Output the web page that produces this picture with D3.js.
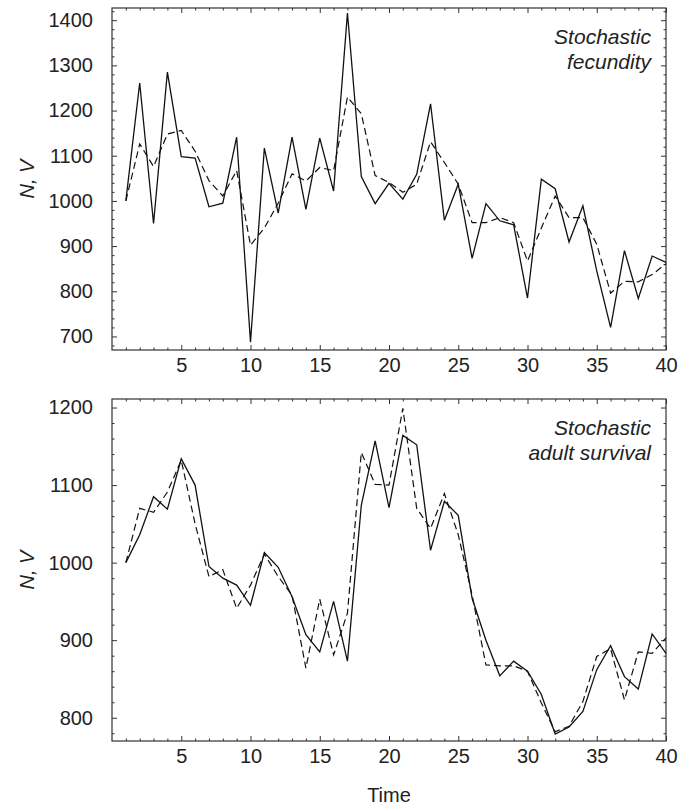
<!DOCTYPE html>
<html>
<head>
<meta charset="utf-8">
<script src="https://cdn.jsdelivr.net/npm/d3@7"></script>
<style>
  body { margin: 0; background: #fff; }
  svg { display: block; font-family: "Liberation Sans", Arial, sans-serif; }
  .tick text { font-size: 20px; fill: #222; }
</style>
</head>
<body>
<div id="chart"></div>
<script>
// time steps
const time = [1,2,3,4,5,6,7,8,9,10,11,12,13,14,15,16,17,18,19,20,
              21,22,23,24,25,26,27,28,29,30,31,32,33,34,35,36,37,38,39,40];

// panel 1: stochastic fecundity (N solid, V dashed)
const fecundityN = [1000,1261,950,1285,1098,1095,987,995,1141,687,1117,973,1141,981,1139,1022,1416,1054,994,1039,
                    1004,1059,1215,957,1037,873,994,956,947,785,1048,1027,909,989,845,720,890,784,878,864];
const fecundityV = [1000,1126,1076,1148,1156,1110,1045,1011,1067,902,940,995,1060,1044,1074,1067,1230,1193,1056,1041,
                    1019,1037,1131,1085,1037,952,952,963,952,867,940,1011,963,963,904,796,822,821,837,861];

// panel 2: stochastic adult survival
const survivalN = [1000,1036,1085,1069,1134,1100,995,980,971,945,1013,994,956,907,885,950,873,1074,1157,1071,
                   1164,1152,1016,1079,1061,954,900,854,873,860,830,779,788,808,862,893,853,837,908,883];
const survivalV = [1000,1070,1065,1091,1132,1050,982,991,941,971,1011,982,958,864,953,881,935,1142,1101,1100,
                   1199,1070,1044,1089,1036,958,868,867,867,860,819,782,789,821,879,889,823,885,883,903];

const xTicks = [5,10,15,20,25,30,35,40];
const fecundityTicks = [700,800,900,1000,1100,1200,1300,1400];
const survivalTicks = [800,900,1000,1100,1200];

const W = 688, H = 807;
const left = 112, right = 666;

const svg = d3.select('#chart').append('svg')
  .attr('width', W)
  .attr('height', H);

const xScale = d3.scaleLinear().domain([0, 40]).range([left, right]);

function drawPanel(opts) {
  const yScale = d3.scaleLinear().domain(opts.yDomain).range([opts.bottom, opts.top]);
  const g = svg.append('g');

  const minorY = d3.range(Math.ceil(opts.yDomain[0] / 20) * 20, opts.yDomain[1], 20)
    .filter(v => v % 100 != 0);
  const minorX = d3.range(1, 40).filter(v => v % 5 != 0);

  // left axis with labels, ticks pointing inward
  g.append('g')
    .attr('transform', `translate(${left},0)`)
    .call(d3.axisLeft(yScale).tickValues(opts.yTicks).tickSize(-5).tickPadding(19).tickFormat(d3.format('d')));
  g.append('g')
    .attr('transform', `translate(${left},0)`)
    .call(d3.axisLeft(yScale).tickValues(minorY).tickSize(-2.5).tickFormat(''));
  // right axis, ticks only
  g.append('g')
    .attr('transform', `translate(${right},0)`)
    .call(d3.axisRight(yScale).tickValues(opts.yTicks).tickSize(-5).tickFormat(''));
  g.append('g')
    .attr('transform', `translate(${right},0)`)
    .call(d3.axisRight(yScale).tickValues(minorY).tickSize(-2.5).tickFormat(''));
  // bottom axis with labels
  g.append('g')
    .attr('transform', `translate(0,${opts.bottom})`)
    .call(d3.axisBottom(xScale).tickValues(xTicks).tickSize(-5).tickPadding(8));
  g.append('g')
    .attr('transform', `translate(0,${opts.bottom})`)
    .call(d3.axisBottom(xScale).tickValues(minorX).tickSize(-2.5).tickFormat(''));
  // top axis, ticks only
  g.append('g')
    .attr('transform', `translate(0,${opts.top})`)
    .call(d3.axisTop(xScale).tickValues(xTicks).tickSize(-5).tickFormat(''));
  g.append('g')
    .attr('transform', `translate(0,${opts.top})`)
    .call(d3.axisTop(xScale).tickValues(minorX).tickSize(-2.5).tickFormat(''));

  g.selectAll('.domain').remove();
  g.selectAll('.tick line').attr('stroke', '#333').attr('stroke-width', 1);

  g.append('rect')
    .attr('x', left)
    .attr('y', opts.top)
    .attr('width', right - left)
    .attr('height', opts.bottom - opts.top)
    .attr('fill', 'none')
    .attr('stroke', '#333')
    .attr('stroke-width', 1.2);

  const line = d3.line()
    .x((d, i) => xScale(time[i]))
    .y(d => yScale(d));

  g.append('path')
    .datum(opts.V)
    .attr('d', line)
    .attr('fill', 'none')
    .attr('stroke', '#111')
    .attr('stroke-width', 1.2)
    .attr('stroke-dasharray', '7,4');

  g.append('path')
    .datum(opts.N)
    .attr('d', line)
    .attr('fill', 'none')
    .attr('stroke', '#111')
    .attr('stroke-width', 1.3)
    .attr('stroke-linejoin', 'miter');

  // y axis title
  const cy = (opts.top + opts.bottom) / 2;
  g.append('text')
    .attr('transform', `translate(34,${cy}) rotate(-90)`)
    .attr('text-anchor', 'middle')
    .style('font-size', '20px')
    .style('font-style', 'italic')
    .attr('fill', '#222')
    .text('N, V');

  // annotation, top right
  const note = g.append('text')
    .attr('text-anchor', 'end')
    .style('font-size', '21px')
    .style('font-style', 'italic')
    .attr('fill', '#222');
  opts.label.forEach((s, i) => {
    note.append('tspan')
      .attr('x', 651)
      .attr('y', opts.top + 36 + i * 25)
      .text(s);
  });
}

drawPanel({
  top: 8, bottom: 350,
  yDomain: [670, 1427],
  yTicks: fecundityTicks,
  N: fecundityN, V: fecundityV,
  label: ['Stochastic', 'fecundity']
});

drawPanel({
  top: 399, bottom: 741,
  yDomain: [770, 1211],
  yTicks: survivalTicks,
  N: survivalN, V: survivalV,
  label: ['Stochastic', 'adult survival']
});

svg.append('text')
  .attr('x', (left + right) / 2)
  .attr('y', 802)
  .attr('text-anchor', 'middle')
  .style('font-size', '20px')
  .attr('fill', '#222')
  .text('Time');
</script>
</body>
</html>
